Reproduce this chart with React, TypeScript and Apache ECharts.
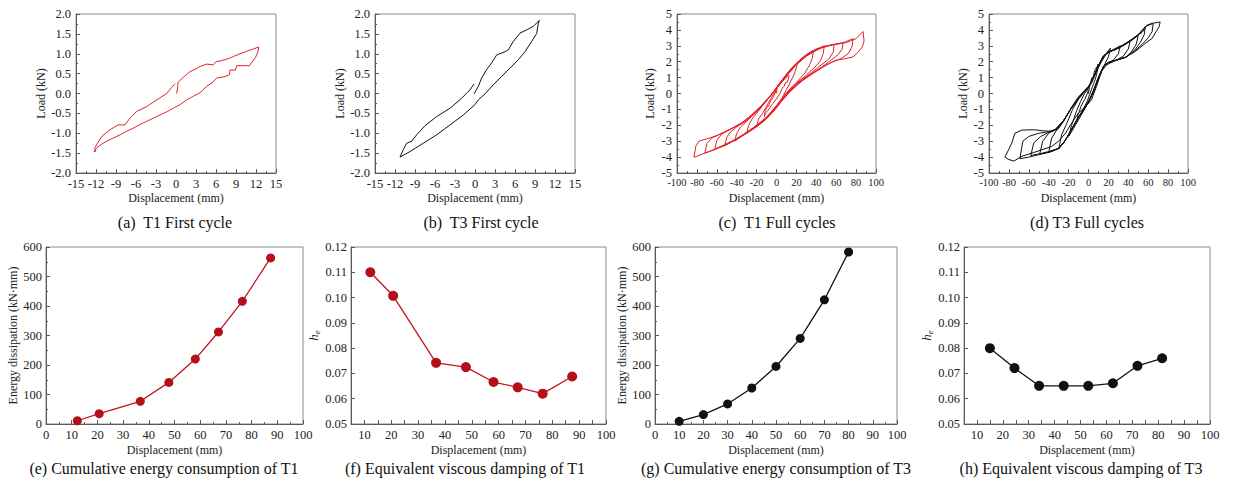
import React, { useEffect, useRef } from 'react';
import * as echarts from 'echarts';

type P = [number, number];

// ---------- (a) T1 first cycle ----------
const T1_FIRST: P[] = [
  [0.1, 0.0], [0.25, 0.15], [0.3, 0.28], [1.1, 0.41], [2.1, 0.55], [3.0, 0.62], [3.6, 0.68], [4.6, 0.74],
  [5.6, 0.72], [6.0, 0.8], [6.6, 0.82], [7.6, 0.86], [8.6, 0.93], [9.6, 1.0], [10.6, 1.06], [11.6, 1.12], [12.4, 1.17],
  [12.3, 1.05], [11.9, 0.9], [11.0, 0.7], [10.0, 0.7], [9.1, 0.7], [8.9, 0.59], [8.1, 0.59], [8.0, 0.47], [7.2, 0.42],
  [6.1, 0.39], [5.5, 0.28], [4.6, 0.18], [3.6, 0.02], [2.6, -0.07], [1.6, -0.16], [0.6, -0.28], [-0.4, -0.37],
  [-1.4, -0.46], [-2.4, -0.54], [-3.4, -0.62], [-4.4, -0.7], [-5.4, -0.78], [-6.4, -0.87], [-7.4, -0.95], [-8.4, -1.04],
  [-9.4, -1.12], [-10.4, -1.2], [-11.2, -1.28], [-11.9, -1.37], [-12.3, -1.46], [-12.0, -1.45],
  [-12.2, -1.38], [-11.6, -1.2], [-11.0, -1.06], [-9.9, -0.91], [-8.65, -0.79], [-7.65, -0.79], [-6.9, -0.62],
  [-5.9, -0.45], [-4.4, -0.33], [-2.9, -0.16], [-1.4, 0.0], [-0.65, 0.15], [-0.15, 0.25],
];

// ---------- (b) T3 first cycle ----------
const T3_FIRST: P[] = [
  [-0.15, -0.01], [0.5, 0.18], [1.0, 0.39], [1.75, 0.6], [2.5, 0.77], [3.25, 0.97], [4.5, 1.05], [5.0, 1.1],
  [5.75, 1.31], [6.75, 1.52], [7.75, 1.6], [8.75, 1.69], [9.65, 1.84],
  [9.5, 1.77], [9.25, 1.51], [8.5, 1.31], [7.5, 1.05], [6.5, 0.85], [5.25, 0.64], [4.0, 0.43], [2.75, 0.22],
  [1.5, -0.01], [0.5, -0.16], [0.0, -0.28], [-1.75, -0.54], [-3.75, -0.79], [-5.75, -1.04], [-7.75, -1.25],
  [-9.75, -1.46], [-11.25, -1.6],
  [-10.75, -1.41], [-10.25, -1.25], [-9.5, -1.2], [-8.75, -1.04], [-7.5, -0.81], [-5.75, -0.58], [-3.75, -0.37],
  [-2.0, -0.12], [-1.25, 0.01], [-0.75, 0.09], [-0.15, 0.24],
];

// ---------- (c) T1 full cycles ----------
const T1_LOOP2: P[] = [
  [-20, -2.05], [-18, -1.6], [-14, -1.25], [-10, -0.8], [-5, -0.25], [0, 0.3], [5, 0.8], [10, 1.2], [15, 1.55],
  [21, 1.95], [20, 1.6], [17, 1.1], [13, 0.6], [10, 0.25], [5, -0.35], [0, -0.8], [-5, -1.2], [-10, -1.55],
  [-15, -1.8], [-20, -2.05],
];
const T1_LOOP3: P[] = [
  [-30, -2.5], [-28, -2.0], [-25, -1.65], [-20, -1.25], [-15, -0.85], [-10, -0.45], [-5, -0.05], [0, 0.35],
  [10, 1.15], [20, 1.85], [30, 2.35], [37, 2.7], [36, 2.2], [33, 1.75], [28, 1.25], [20, 0.7], [10, 0.05],
  [0, -0.75], [-10, -1.5], [-20, -2.0], [-30, -2.5],
];
const T1_LOOP4: P[] = [
  [-42, -3.0], [-40, -2.5], [-36, -2.1], [-30, -1.75], [-20, -1.15], [-10, -0.45], [0, 0.3], [10, 1.1], [20, 1.8],
  [30, 2.35], [40, 2.7], [48, 3.0], [47, 2.5], [44, 2.05], [40, 1.75], [30, 1.15], [20, 0.65], [10, 0.0],
  [0, -0.8], [-10, -1.5], [-20, -2.0], [-30, -2.45], [-42, -3.0],
];
const T1_LOOP5: P[] = [
  [-52, -3.3], [-50, -2.75], [-46, -2.4], [-40, -2.1], [-30, -1.7], [-20, -1.15], [-10, -0.45], [0, 0.3],
  [10, 1.1], [20, 1.85], [30, 2.4], [40, 2.75], [50, 2.95], [58, 3.1], [57, 2.6], [53, 2.2], [45, 1.8],
  [35, 1.3], [25, 0.85], [15, 0.3], [5, -0.4], [-5, -1.2], [-15, -1.8], [-30, -2.45], [-40, -2.85], [-52, -3.3],
];
const T1_LOOP6: P[] = [
  [-62, -3.5], [-60, -2.95], [-55, -2.55], [-45, -2.2], [-35, -1.85], [-25, -1.35], [-15, -0.75], [-5, -0.05],
  [5, 0.75], [15, 1.55], [25, 2.15], [35, 2.6], [45, 2.9], [55, 3.05], [67, 3.2], [66, 2.8], [62, 2.45],
  [55, 2.1], [45, 1.65], [35, 1.25], [25, 0.8], [15, 0.25], [5, -0.45], [-5, -1.2], [-15, -1.8], [-25, -2.25],
  [-35, -2.65], [-45, -3.0], [-55, -3.3], [-62, -3.5],
];
const T1_LOOP7: P[] = [
  [-72, -3.75], [-70, -3.15], [-65, -2.8], [-55, -2.5], [-45, -2.2], [-35, -1.85], [-25, -1.35], [-15, -0.75],
  [-5, -0.05], [5, 0.8], [15, 1.6], [25, 2.2], [35, 2.65], [45, 2.9], [55, 3.05], [65, 3.15], [77, 3.45],
  [76, 2.95], [72, 2.5], [65, 2.2], [55, 1.95], [45, 1.6], [35, 1.2], [25, 0.75], [15, 0.2], [5, -0.5],
  [-5, -1.25], [-15, -1.85], [-25, -2.3], [-35, -2.7], [-45, -3.05], [-55, -3.35], [-65, -3.6], [-72, -3.75],
];
const T1_LOOP8: P[] = [
  [-83, -4.0], [-81, -3.3], [-78, -3.0], [-70, -2.85], [-60, -2.65], [-50, -2.35], [-40, -2.05], [-30, -1.7],
  [-20, -1.15], [-10, -0.45], [0, 0.35], [10, 1.2], [20, 1.9], [30, 2.45], [40, 2.8], [50, 3.0], [60, 3.1],
  [70, 3.2], [80, 3.45], [87, 3.9], [88, 3.3], [86, 2.9], [82, 2.6], [77, 2.3], [70, 2.2], [60, 2.1], [50, 1.8],
  [40, 1.4], [30, 1.0], [20, 0.55], [10, -0.05], [0, -0.9], [-10, -1.6], [-20, -2.1], [-30, -2.5], [-40, -2.85],
  [-50, -3.2], [-60, -3.45], [-70, -3.7], [-80, -3.95], [-83, -4.0],
];
const T1_LOOPS: P[][] = [T1_FIRST, T1_LOOP2, T1_LOOP3, T1_LOOP4, T1_LOOP5, T1_LOOP6, T1_LOOP7, T1_LOOP8];

// ---------- (d) T3 full cycles ----------
const T3_LOOP2: P[] = [
  [-20, -2.7], [-17, -2.0], [-12, -1.1], [-8, -0.5], [-4, 0.0], [0, 0.35], [5, 1.0], [10, 1.7], [15, 2.3],
  [22, 2.85], [20, 2.3], [16, 1.8], [12, 1.2], [8, 0.55], [4, -0.05], [0, -0.5], [-5, -1.1], [-10, -1.65],
  [-15, -2.2], [-20, -2.7],
];
const T3_LOOP3: P[] = [
  [-30, -3.5], [-27, -2.6], [-22, -1.9], [-16, -1.0], [-10, -0.35], [-4, 0.1], [0, 0.4], [5, 1.0], [10, 1.75],
  [15, 2.35], [20, 2.6], [26, 2.8], [32, 3.0], [30, 2.5], [25, 2.1], [20, 1.95], [15, 1.7], [10, 1.0], [5, 0.2],
  [0, -0.5], [-5, -1.0], [-10, -1.45], [-15, -2.0], [-20, -2.6], [-25, -3.1], [-30, -3.5],
];
const T3_LOOP4: P[] = [
  [-40, -3.7], [-37, -2.8], [-32, -2.3], [-25, -1.7], [-18, -1.0], [-10, -0.3], [-4, 0.15], [0, 0.4], [5, 1.0],
  [10, 1.75], [15, 2.35], [20, 2.6], [30, 2.85], [36, 3.05], [42, 3.35], [40, 2.8], [35, 2.35], [28, 2.1],
  [20, 1.95], [15, 1.7], [10, 1.0], [5, 0.15], [0, -0.55], [-5, -1.05], [-10, -1.5], [-15, -2.05], [-20, -2.6],
  [-25, -3.1], [-30, -3.45], [-35, -3.6], [-40, -3.7],
];
const T3_LOOP5: P[] = [
  [-49, -3.8], [-46, -3.0], [-40, -2.5], [-33, -2.25], [-25, -1.7], [-18, -1.0], [-10, -0.3], [-4, 0.15],
  [0, 0.4], [5, 1.0], [10, 1.75], [15, 2.35], [20, 2.6], [30, 2.85], [40, 3.2], [50, 3.65], [48, 3.1], [43, 2.6],
  [37, 2.25], [28, 2.1], [20, 1.95], [15, 1.7], [10, 1.0], [5, 0.15], [0, -0.55], [-5, -1.05], [-10, -1.5],
  [-15, -2.05], [-20, -2.6], [-25, -3.1], [-30, -3.45], [-40, -3.65], [-49, -3.8],
];
const T3_LOOP6: P[] = [
  [-58, -3.9], [-55, -3.1], [-48, -2.7], [-40, -2.45], [-33, -2.25], [-25, -1.7], [-18, -1.0], [-10, -0.3],
  [-4, 0.15], [0, 0.4], [5, 1.0], [10, 1.75], [15, 2.35], [20, 2.6], [30, 2.85], [40, 3.25], [50, 3.7], [57, 4.2],
  [56, 3.7], [52, 3.2], [46, 2.7], [38, 2.3], [28, 2.1], [20, 1.95], [15, 1.7], [10, 1.0], [5, 0.15], [0, -0.55],
  [-5, -1.05], [-10, -1.5], [-15, -2.05], [-20, -2.6], [-25, -3.1], [-30, -3.45], [-40, -3.7], [-50, -3.8],
  [-58, -3.9],
];
const T3_LOOP7: P[] = [
  [-69, -4.1], [-66, -3.0], [-60, -2.7], [-50, -2.5], [-40, -2.4], [-33, -2.25], [-25, -1.7], [-18, -1.0],
  [-10, -0.3], [-4, 0.15], [0, 0.4], [5, 1.0], [10, 1.75], [15, 2.35], [20, 2.6], [30, 2.85], [40, 3.25],
  [50, 3.7], [58, 4.25], [65, 4.4], [64, 3.9], [60, 3.5], [54, 3.1], [46, 2.65], [38, 2.3], [28, 2.1], [20, 1.95],
  [15, 1.7], [10, 1.0], [5, 0.15], [0, -0.55], [-5, -1.05], [-10, -1.5], [-15, -2.05], [-20, -2.6], [-25, -3.1],
  [-30, -3.45], [-40, -3.7], [-50, -3.85], [-60, -4.0], [-69, -4.1],
];
const T3_LOOP8: P[] = [
  [-84, -4.0], [-80, -3.5], [-77, -3.1], [-74, -2.5], [-67, -2.3], [-55, -2.28], [-45, -2.35], [-36, -2.38],
  [-30, -2.2], [-24, -1.65], [-17, -0.85], [-10, -0.2], [-5, 0.12], [-2, 0.33], [3, 0.65], [8, 1.38], [13, 2.0],
  [18, 2.5], [27, 2.78], [37, 3.15], [44, 3.37], [50, 3.68], [54, 3.85], [59, 4.3], [63, 4.4], [72, 4.5],
  [71, 4.2], [67, 3.8], [64, 3.47], [57, 3.15], [47, 2.64], [37, 2.28], [27, 2.07], [18, 1.8], [13, 1.38],
  [8, 0.44], [3, -0.4], [-3, -0.82], [-10, -1.23], [-17, -1.86], [-23, -2.49], [-30, -3.0], [-37, -3.33],
  [-47, -3.54], [-57, -3.75], [-67, -3.95], [-75, -4.25], [-80, -4.15], [-84, -4.0],
];
const T3_LOOPS: P[][] = [T3_FIRST, T3_LOOP2, T3_LOOP3, T3_LOOP4, T3_LOOP5, T3_LOOP6, T3_LOOP7, T3_LOOP8];

// ---------- (e)-(h) ----------
const T1_DISP = [12.2, 20.7, 36.7, 47.8, 58.1, 67.1, 76.4, 87.4];
const T1_ENERGY = [11, 35, 77, 141, 220, 312, 416, 563];
const T1_DAMPING = [0.11, 0.1007, 0.0742, 0.0725, 0.0666, 0.0645, 0.062, 0.0688];
const T3_DISP = [10, 20, 30, 40, 50, 60, 70, 80];
const T3_ENERGY = [9, 32, 68, 122, 195, 290, 421, 583];
const T3_DAMP_DISP = [15, 24.5, 34, 43.5, 53, 62.5, 72, 81.5];
const T3_DAMPING = [0.08, 0.0721, 0.0651, 0.0651, 0.0651, 0.0661, 0.073, 0.076];

const CAPTIONS = [
  '(a)  T1 First cycle',
  '(b)  T3 First cycle',
  '(c)  T1 Full cycles',
  '(d) T3 Full cycles',
  '(e) Cumulative energy consumption of T1',
  '(f) Equivalent viscous damping of T1',
  '(g) Cumulative energy consumption of T3',
  '(h) Equivalent viscous damping of T3',
];

const FONT = 'Liberation Serif';
const AXC = '#5a5a5a';
const RED = '#e3222b';
const DARKRED = '#b50f19';
const BLACK = '#111111';

const zip = (xs: number[], ys: number[]) => xs.map((x, i) => [x, ys[i]]);

function buildOption() {
  const grids = [
    { left: 76, top: 14, width: 200, height: 159 },
    { left: 375, top: 14, width: 200, height: 159 },
    { left: 677, top: 14, width: 199, height: 159 },
    { left: 989, top: 14, width: 199, height: 159 },
    { left: 46, top: 247, width: 257, height: 177 },
    { left: 351, top: 247, width: 255, height: 177 },
    { left: 655, top: 247, width: 242, height: 177 },
    { left: 964, top: 247, width: 246, height: 177 },
  ].map((g) => ({ ...g, show: true, borderColor: '#8a8a8a', borderWidth: 1, backgroundColor: 'transparent' }));

  const baseAxis = (gi: number, extra: any) => ({
    gridIndex: gi,
    type: 'value',
    axisLine: { show: true, onZero: false, lineStyle: { color: AXC, width: 1 } },
    axisTick: { show: true, inside: true, length: 4, lineStyle: { color: AXC } },
    minorTick: { show: true, splitNumber: 2, length: 2, lineStyle: { color: AXC } },
    splitLine: { show: false },
    minorSplitLine: { show: false },
    nameLocation: 'middle',
    nameTextStyle: { fontFamily: FONT, fontSize: 12, color: '#222' },
    ...extra,
    axisLabel: { fontFamily: FONT, fontSize: 12.5, color: '#222', margin: 4, ...(extra.axisLabel || {}) },
  });

  const heName = {
    name: '{i|h}{s|e}',
    nameTextStyle: {
      fontFamily: FONT,
      fontSize: 13,
      color: '#222',
      rich: {
        i: { fontFamily: FONT, fontStyle: 'italic', fontSize: 13, color: '#222' },
        s: { fontFamily: FONT, fontStyle: 'italic', fontSize: 9, color: '#222', padding: [7, 0, 0, 0] },
      },
    },
  };

  const tenOnly = (v: number) => (Math.round(v) % 10 === 0 ? String(Math.round(v)) : '');

  const xAxes = [
    baseAxis(0, { min: -15, max: 15, interval: 3, name: 'Displacement (mm)', nameGap: 19 }),
    baseAxis(1, { min: -15, max: 15, interval: 3, name: 'Displacement (mm)', nameGap: 19 }),
    baseAxis(2, { min: -100, max: 100, interval: 20, name: 'Displacement (mm)', nameGap: 19, axisLabel: { fontSize: 10.5 } }),
    baseAxis(3, { min: -100, max: 100, interval: 20, name: 'Displacement (mm)', nameGap: 19, axisLabel: { fontSize: 10.5 } }),
    baseAxis(4, { min: 0, max: 100, interval: 10, name: 'Displacement (mm)', nameGap: 20 }),
    baseAxis(5, { min: 5, max: 100, interval: 5, name: 'Displacement (mm)', nameGap: 20, minorTick: { show: false }, axisLabel: { formatter: tenOnly } }),
    baseAxis(6, { min: 0, max: 100, interval: 10, name: 'Displacement (mm)', nameGap: 20 }),
    baseAxis(7, { min: 5, max: 100, interval: 5, name: 'Displacement (mm)', nameGap: 20, minorTick: { show: false }, axisLabel: { formatter: tenOnly } }),
  ];

  const yAxes = [
    baseAxis(0, { min: -2, max: 2, interval: 0.5, name: 'Load (kN)', nameGap: 24, axisLabel: { formatter: (v: number) => v.toFixed(1), margin: 5 } }),
    baseAxis(1, { min: -2, max: 2, interval: 0.5, name: 'Load (kN)', nameGap: 23, axisLabel: { formatter: (v: number) => v.toFixed(1), margin: 5 } }),
    baseAxis(2, { min: -5, max: 5, interval: 1, name: 'Load (kN)', nameGap: 21, axisLabel: { margin: 5 } }),
    baseAxis(3, { min: -5, max: 5, interval: 1, name: 'Load (kN)', nameGap: 20, axisLabel: { margin: 5 } }),
    baseAxis(4, { min: 0, max: 600, interval: 100, name: 'Energy dissipation (kN·mm)', nameGap: 27 }),
    baseAxis(5, { min: 0.05, max: 0.12, interval: 0.01, nameGap: 29, minorTick: { show: false }, ...heName, axisLabel: { formatter: (v: number) => v.toFixed(2) } }),
    baseAxis(6, { min: 0, max: 600, interval: 100, name: 'Energy dissipation (kN·mm)', nameGap: 27 }),
    baseAxis(7, { min: 0.05, max: 0.12, interval: 0.01, nameGap: 24, minorTick: { show: false }, ...heName, axisLabel: { formatter: (v: number) => v.toFixed(2) } }),
  ];

  const loopSeries = (loops: P[][], gi: number, color: string) =>
    loops.map((loop) => ({
      type: 'line',
      xAxisIndex: gi,
      yAxisIndex: gi,
      data: loop,
      showSymbol: false,
      symbol: 'none',
      lineStyle: { color, width: 1 },
      silent: true,
    }));

  const pointSeries = (xs: number[], ys: number[], gi: number, line: string, dot: string, size: number) => ({
    type: 'line',
    xAxisIndex: gi,
    yAxisIndex: gi,
    data: zip(xs, ys),
    symbol: 'circle',
    symbolSize: size,
    showSymbol: true,
    lineStyle: { color: line, width: 1.3 },
    itemStyle: { color: dot },
    silent: true,
  });

  const series = [
    ...loopSeries([T1_FIRST], 0, RED),
    ...loopSeries([T3_FIRST], 1, BLACK),
    ...loopSeries(T1_LOOPS, 2, RED),
    ...loopSeries(T3_LOOPS, 3, BLACK),
    pointSeries(T1_DISP, T1_ENERGY, 4, '#c4141d', DARKRED, 9),
    pointSeries(T1_DISP, T1_DAMPING, 5, '#c4141d', DARKRED, 10),
    pointSeries(T3_DISP, T3_ENERGY, 6, BLACK, BLACK, 9),
    pointSeries(T3_DAMP_DISP, T3_DAMPING, 7, BLACK, BLACK, 10),
  ];

  const capPos: [number, number][] = [
    [175, 222], [481, 222], [777, 222], [1087, 222],
    [164, 468], [465, 468], [776, 468], [1081, 468],
  ];
  const graphic = CAPTIONS.map((t, i) => ({
    type: 'text',
    x: capPos[i][0],
    y: capPos[i][1],
    silent: true,
    style: {
      text: t,
      fontFamily: FONT,
      fontSize: 16,
      fill: '#111',
      align: 'center',
      verticalAlign: 'middle',
    },
  }));

  return {
    animation: false,
    backgroundColor: '#ffffff',
    textStyle: { fontFamily: FONT },
    grid: grids,
    xAxis: xAxes,
    yAxis: yAxes,
    series,
    graphic,
  };
}

export default function App() {
  const ref = useRef<HTMLDivElement>(null);
  useEffect(() => {
    if (!ref.current) return;
    const chart = echarts.init(ref.current, null, { renderer: 'svg' });
    chart.setOption(buildOption() as any);
    return () => chart.dispose();
  }, []);
  return (
    <div
      ref={ref}
      style={{ position: 'absolute', left: 0, top: 0, width: 1234, height: 481, background: '#fff' }}
    />
  );
}
